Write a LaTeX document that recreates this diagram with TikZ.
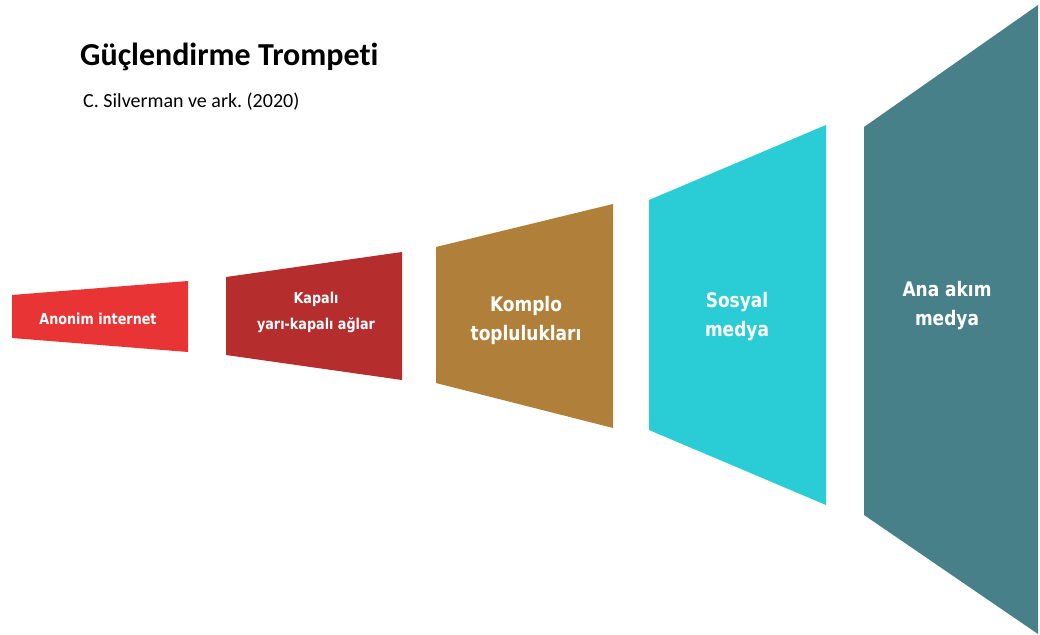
\documentclass[tikz,border=0pt]{standalone}
\usepackage{fontspec}
\setmainfont[Ligatures=CommonOff]{Carlito}
\newfontfamily\lblfont[FakeStretch=0.85]{DejaVu Sans}
\definecolor{cA}{RGB}{232,52,52}
\definecolor{cB}{RGB}{181,45,45}
\definecolor{cC}{RGB}{176,128,58}
\definecolor{cD}{RGB}{42,205,213}
\definecolor{cE}{RGB}{72,128,138}
\frenchspacing
\begin{document}
\begin{tikzpicture}[x=1pt,y=-1pt,
  seg/.style={fill=#1,draw=none},
  small/.style={text=white,font=\lblfont\bfseries\fontsize{15}{18}\selectfont,anchor=base,inner sep=0pt},
  big/.style={text=white,font=\lblfont\bfseries\fontsize{20}{24}\selectfont,anchor=base,inner sep=0pt}]
\useasboundingbox[fill=white] (0,0) rectangle (1040,634);
% trumpet segments
\fill[seg=cA] (12,295) -- (188,281) -- (188,352) -- (12,338) -- cycle;
\fill[seg=cB] (226,277) -- (402,252) -- (402,380) -- (226,355) -- cycle;
\fill[seg=cC] (436,247) -- (613,204) -- (613,428) -- (436,383) -- cycle;
\fill[seg=cD] (649,200) -- (826,125) -- (826,505) -- (649,430) -- cycle;
\fill[seg=cE] (864,127) -- (1038,5) -- (1038,634) -- (864,515) -- cycle;
% titles
\node[anchor=base west,inner sep=0pt,font=\bfseries\fontsize{32}{38}\selectfont] (title) at (80,65) {Güçlendirme Trompeti};
\node[anchor=base west,inner sep=0pt,font=\fontsize{20}{24}\selectfont] (sub) at (83,107) {C. Silverman ve ark. (2020)};
% labels
\node[small] (l1) at (98,324) {Anonim internet};
\node[small] (l2a) at (316,303) {Kapalı};
\node[small] (l2b) at (316,329) {yarı-kapalı ağlar};
\node[big] (l3a) at (526,311) {Komplo};
\node[big] (l3b) at (526,340) {toplulukları};
\node[big] (l4a) at (737,307) {Sosyal};
\node[big] (l4b) at (737,336) {medya};
\node[big] (l5a) at (947,296) {Ana akım};
\node[big] (l5b) at (947,325) {medya};
\end{tikzpicture}
\end{document}
